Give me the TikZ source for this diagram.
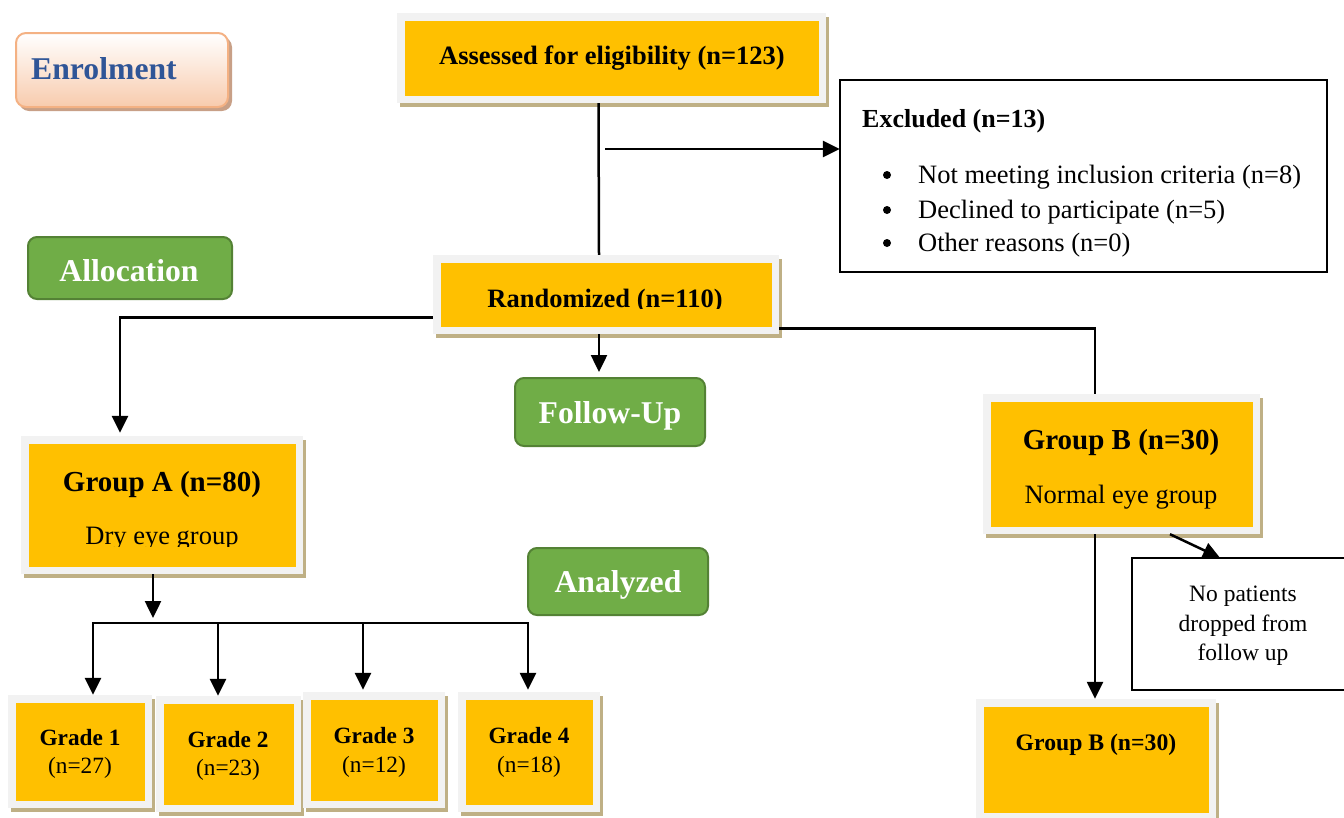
\documentclass[tikz,border=0pt]{standalone}
\usepackage{fontspec}
\setmainfont{Liberation Serif}
\usetikzlibrary{arrows.meta,fit,calc}
\definecolor{boxorange}{HTML}{FFC000}
\definecolor{framegray}{HTML}{F2F2F2}
\definecolor{shadowtan}{RGB}{191,176,133}
\definecolor{greenfill}{HTML}{70AD47}
\definecolor{greenline}{HTML}{548235}
\definecolor{peach}{HTML}{F8CBAD}
\definecolor{peachline}{HTML}{F4B183}
\definecolor{peachshadow}{RGB}{200,160,135}
\definecolor{enrolblue}{HTML}{2F5597}
\newcommand\fsz[1]{\fontsize{#1}{#1}\selectfont}
% name, x1, y1, x2, y2 (outer frame, pixel coordinates)
\newcommand\orangebox[5]{%
  \fill[shadowtan] (#2+3,#3+4) rectangle (#4+3,#5+4);
  \fill[framegray] (#2,#3) rectangle (#4,#5);
  \fill[boxorange] (#2+7.5,#3+7.5) rectangle (#4-7.5,#5-7.5);
  \node[fit={(#2,#3) (#4,#5)}, inner sep=0pt] (#1) {};
}
\tikzset{tipA/.tip={Triangle[length=17pt 0 0, width=16pt 0 0]}}
\begin{document}
\begin{tikzpicture}[x=1pt,y=-1pt,
  conn/.style={line width=2.5pt},
  arr/.style={line width=2.5pt, -tipA},
  btngreen/.style={fill=greenfill, draw=greenline, line width=2pt, rounded corners=9pt, inner sep=0pt},
  txt/.style={inner sep=0pt, anchor=base, text=black},
  btntext/.style={inner sep=0pt, text=white}]
\useasboundingbox (0,0) rectangle (1344,817);

% ---------- Enrolment button
\fill[peachshadow, rounded corners=10pt] (19,37) rectangle (232,111);
\shade[top color=white, bottom color=peach, rounded corners=10pt] (16,33) rectangle (228,107);
\draw[peachline, line width=2pt, rounded corners=10pt] (16,33) rectangle (228,107);
\node[fit={(16,33) (228,107)}, inner sep=0pt] (enrol) {};
\node[inner sep=0pt, anchor=base west, text=enrolblue] (enrol-t) at (31,79) {\fsz{31.7}\bfseries Enrolment};

% ---------- Green buttons
\node[btngreen, fit={(28,237) (232,299)}] (alloc) {};
\node[btntext, anchor=base] (alloc-t) at (129,281) {\fsz{31.7}\bfseries Allocation};
\node[btngreen, fit={(515,378) (705,446)}] (follow) {};
\node[btntext, anchor=base] (follow-t) at (610,423) {\fsz{31.7}\bfseries Follow-Up};
\node[btngreen, fit={(528,548) (708,615)}] (analyzed) {};
\node[btntext, anchor=base] (analyzed-t) at (618,592) {\fsz{31.7}\bfseries Analyzed};

% ---------- Orange boxes
\orangebox{assess}{397}{13}{826}{103}
\node[txt] (assess-t) at (612,64) {\fsz{26.5}\bfseries Assessed for eligibility (n=123)};

\orangebox{rand}{433}{255}{779}{334}
\begin{scope}
  \clip (440,262) rectangle (772,308);
  \node[txt] (rand-t) at (605,307) {\fsz{26.5}\bfseries Randomized (n=110)};
\end{scope}

\orangebox{gA}{21}{436}{303}{574}
\node[txt] (gA-t1) at (162,491) {\fsz{29}\bfseries Group A (n=80)};
\begin{scope}
  \clip (28,500) rectangle (295,546);
  \node[txt] (gA-t2) at (162,544) {\fsz{26.5}Dry eye group};
\end{scope}

\orangebox{gB}{983}{394}{1260}{534}
\node[txt] (gB-t1) at (1121,449) {\fsz{29}\bfseries Group B (n=30)};
\node[txt] (gB-t2) at (1121,503) {\fsz{26.5}Normal eye group};

\orangebox{g1}{8}{695}{152}{808}
\node[txt] (g1-t1) at (80,745) {\fsz{23.3}\bfseries Grade 1};
\node[txt] (g1-t2) at (80,773) {\fsz{23.3}(n=27)};
\orangebox{g2}{156}{696}{301}{812}
\node[txt] (g2-t1) at (228,747) {\fsz{23.3}\bfseries Grade 2};
\node[txt] (g2-t2) at (228,775) {\fsz{23.3}(n=23)};
\orangebox{g3}{303}{692}{445}{808}
\node[txt] (g3-t1) at (374,743) {\fsz{23.3}\bfseries Grade 3};
\node[txt] (g3-t2) at (374,772) {\fsz{23.3}(n=12)};
\orangebox{g4}{458}{692}{600}{812}
\node[txt] (g4-t1) at (529,743) {\fsz{23.3}\bfseries Grade 4};
\node[txt] (g4-t2) at (529,772) {\fsz{23.3}(n=18)};

\orangebox{gB2}{976}{699}{1216}{820}
\node[txt] (gB2-t) at (1096,750) {\fsz{23.7}\bfseries Group B (n=30)};

% ---------- Excluded box
\draw[line width=1.5pt] (840,80) rectangle (1327,272);
\node[fit={(840,80) (1327,272)}, inner sep=0pt] (excl) {};
\node[txt, anchor=base west] (excl-t) at (862,127) {\fsz{26}\bfseries Excluded (n=13)};
\fill (887,175) circle (4);
\fill (887,210) circle (4);
\fill (887,243) circle (4);
\node[txt, anchor=base west] (excl-a) at (918,183) {\fsz{26.5}Not meeting inclusion criteria (n=8)};
\node[txt, anchor=base west] (excl-b) at (918,218) {\fsz{26.5}Declined to participate (n=5)};
\node[txt, anchor=base west] (excl-c) at (918,251) {\fsz{26.5}Other reasons (n=0)};

% ---------- No patients box
\draw[line width=1.5pt] (1350,558) -- (1132,558) -- (1132,690) -- (1350,690);
\node[fit={(1132,558) (1350,690)}, inner sep=0pt] (nopat) {};
\node[txt] (nopat-1) at (1243,601) {\fsz{23.5}No patients};
\node[txt] (nopat-2) at (1243,631) {\fsz{23.5}dropped from};
\node[txt] (nopat-3) at (1243,660) {\fsz{23.5}follow up};

% ---------- Connectors
\draw[conn] ([xshift=-13pt]assess.south) -- ([xshift=-7pt]rand.north);
\coordinate (exbr) at (605,149);
\draw[arr] (exbr) -- (exbr -| excl.west);
\draw[arr, shorten >=3pt] ([yshift=-23pt]rand.west) -| ([xshift=-42pt]gA.north);
\draw[arr, shorten >=5pt] ([xshift=-7pt]rand.south) -- ([xshift=-11pt]follow.north);
\draw[conn] ([yshift=-34pt]rand.east) -| ([xshift=-26.5pt]gB.north);
\draw[arr] ([xshift=-26.5pt]gB.south) -- ([xshift=-26.5pt]gB.south |- gB2.north);
\draw[arr] ([xshift=48.5pt]gB.south) -- ([xshift=-21pt]nopat.north);
\coordinate (bus) at (153,623);
\draw[arr, shorten >=5pt] ([xshift=-9pt]gA.south) -- (bus);
\coordinate (b1) at (93,623);
\coordinate (b2) at (218,623);
\coordinate (b3) at (363,623);
\coordinate (b4) at (528,623);
\draw[conn] ([xshift=-1.25pt]b1) -- ([xshift=1.25pt]b4);
\draw[arr] (b1) -- (b1 |- g1.north);
\draw[arr] (b2) -- (b2 |- g2.north);
\draw[arr] (b3) -- ([yshift=2pt]b3 |- g3.north);
\draw[arr] (b4) -- ([yshift=2pt]b4 |- g4.north);
\end{tikzpicture}
\end{document}
